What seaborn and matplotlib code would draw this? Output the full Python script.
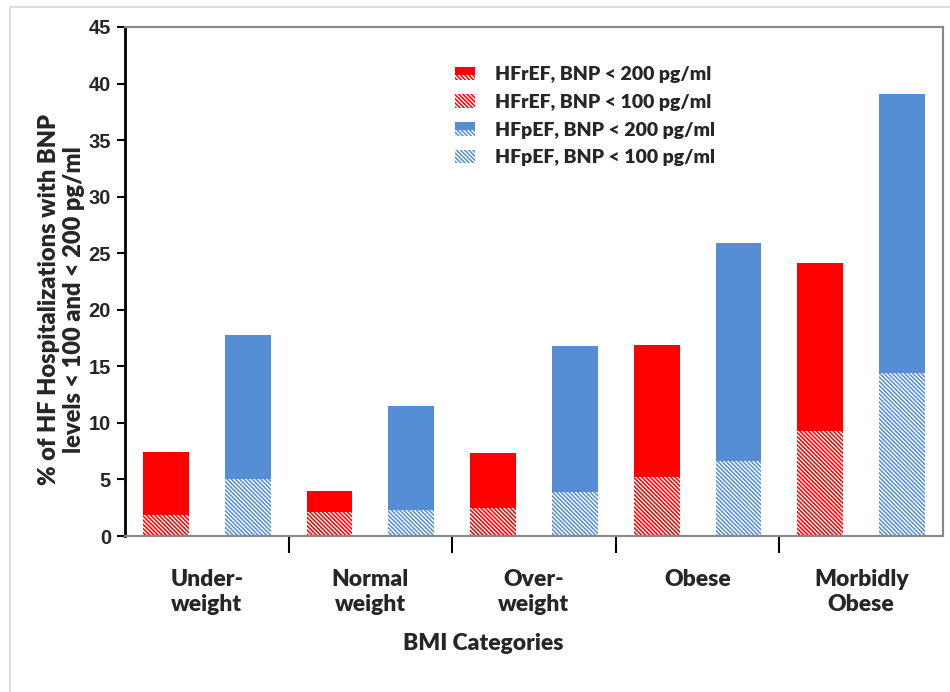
import seaborn as sns
import matplotlib
matplotlib.use('Agg')
import matplotlib.pyplot as plt
import pandas as pd
from matplotlib.patches import Patch, Rectangle
from matplotlib.legend_handler import HandlerBase

categories = ["Under-\nweight", "Normal\nweight", "Over-\nweight", "Obese", "Morbidly\nObese"]
groups = ["HFrEF", "HFpEF"]
hfref_200 = [7.4, 4.0, 7.3, 16.9, 24.1]
hfref_100 = [1.9, 2.1, 2.5, 5.2, 9.3]
hfpef_200 = [17.8, 11.5, 16.8, 25.9, 39.1]
hfpef_100 = [5.0, 2.3, 3.9, 6.6, 14.4]
legend_labels = ["HFrEF, BNP < 200 pg/ml", "HFrEF, BNP < 100 pg/ml",
                 "HFpEF, BNP < 200 pg/ml", "HFpEF, BNP < 100 pg/ml"]

red = "#FF0000"
blue = "#558ED5"
palette = {"HFrEF": red, "HFpEF": blue}
HATCH = "\\" * 8
WEIGHT = "heavy"

df = pd.DataFrame({
    "cat": categories * 2,
    "type": ["HFrEF"] * 5 + ["HFpEF"] * 5,
    "v200": hfref_200 + hfpef_200,
    "v100": hfref_100 + hfpef_100,
})


class HandlerSplit(HandlerBase):
    # legend icon: solid on top, hatched underneath (like the stacked bar)
    def create_artists(self, legend, orig, xdescent, ydescent, width, height, fontsize, trans):
        fc = orig.get_facecolor()
        top = Rectangle((-xdescent, -ydescent + height * 0.4), width, height * 0.6,
                        facecolor=fc, linewidth=0, transform=trans)
        bot = Rectangle((-xdescent, -ydescent), width, height * 0.4, facecolor=fc,
                        hatch=HATCH, edgecolor="white", linewidth=0, transform=trans)
        return [top, bot]


sns.set_theme(style="white")
plt.rcParams['font.family'] = ['Lato', 'DejaVu Sans']
plt.rcParams['hatch.linewidth'] = 1.0

fig = plt.figure(figsize=(9.5, 6.92), dpi=100)
ax = fig.add_axes([125 / 950, 1 - 536 / 692, 818 / 950, 509 / 692])

# light frame around the figure
fig.patches.append(Rectangle((10 / 950, -0.05), 1.0, 1 - 7 / 692 + 0.05, transform=fig.transFigure,
                             fill=False, edgecolor="#dddddd", linewidth=1.5))

sns.barplot(data=df, x="cat", y="v200", hue="type", hue_order=groups, palette=palette,
            width=1.0, gap=0.44, saturation=1, errorbar=None, legend=False, ax=ax)
n = len(ax.patches)
sns.barplot(data=df, x="cat", y="v100", hue="type", hue_order=groups, palette=palette,
            width=1.0, gap=0.44, saturation=1, errorbar=None, legend=False, ax=ax)
for p in ax.patches[:n]:
    p.set_linewidth(0)
for p in ax.patches[n:]:
    p.set_hatch(HATCH)
    p.set_edgecolor("white")
    p.set_linewidth(0)

ax.set_xlim(-0.5, 4.5)
ax.set_ylim(0, 45)
ax.set_yticks(range(0, 46, 5))
ax.set_yticklabels([str(v) for v in range(0, 46, 5)], family="Liberation Sans",
                   fontweight="bold", fontsize=14.5)
ax.tick_params(axis="y", direction="out", length=6, width=1.5, color="black", left=True, pad=4)

# separators between groups as major ticks, labels as minor ticks
ax.set_xticks([0.5, 1.5, 2.5, 3.5])
ax.set_xticklabels([""] * 4)
ax.tick_params(axis="x", which="major", direction="out", length=12, width=1.5, color="black", bottom=True)
ax.set_xticks(range(5), minor=True)
ax.set_xticklabels(categories, minor=True, fontweight=WEIGHT, fontsize=16.5, va="top", linespacing=1.2)
ax.tick_params(axis="x", which="minor", length=0, pad=24)

ax.set_xlabel("BMI Categories", fontweight=WEIGHT, fontsize=16.5, va="top")
ax.xaxis.set_label_coords(0.4377, -0.19)
ax.set_ylabel("% of HF Hospitalizations with BNP\nlevels < 100 and < 200 pg/ml",
              fontweight=WEIGHT, fontsize=17, va="center", linespacing=1.15)
ax.yaxis.set_label_coords(-0.078, 0.464)

for side in ["top", "right", "bottom"]:
    ax.spines[side].set_color("#888888")
    ax.spines[side].set_linewidth(1.5)
ax.spines["left"].set_color("black")
ax.spines["left"].set_linewidth(2)

h200_r = Patch(facecolor=red, linewidth=0)
h200_b = Patch(facecolor=blue, linewidth=0)
handles = [
    h200_r,
    Patch(facecolor=red, hatch=HATCH, edgecolor="white", linewidth=0),
    h200_b,
    Patch(facecolor=blue, hatch=HATCH, edgecolor="white", linewidth=0),
]
ax.legend(handles, legend_labels, loc="upper left", bbox_to_anchor=(0.403, 0.923), frameon=False,
          prop={"weight": WEIGHT, "size": 14}, handlelength=1.05, handleheight=0.7,
          handletextpad=1.0, labelspacing=0.55, borderpad=0, borderaxespad=0,
          handler_map={h200_r: HandlerSplit(), h200_b: HandlerSplit()})

fig.savefig("out.png", dpi=100)
